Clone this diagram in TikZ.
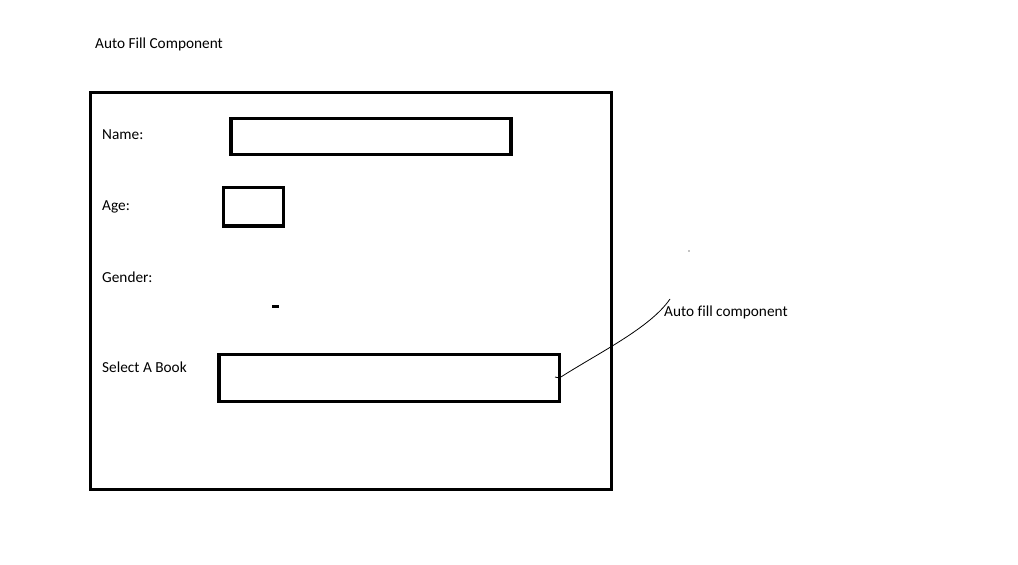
\documentclass[tikz,border=0pt]{standalone}
\usepackage{fontspec}
\setmainfont{Carlito}[Ligatures=CommonOff]
\usetikzlibrary{positioning}
\begin{document}
\begin{tikzpicture}[
  x=1pt, y=-1pt,
  font=\fontsize{15.3}{18}\selectfont,
  frame/.style={draw, line width=3.2pt, inner sep=0pt, outer sep=0pt, anchor=north west},
  field/.style={frame},
  caption/.style={anchor=base west, inner sep=0pt},
  note/.style={line width=0.8pt}
]
\useasboundingbox (0,0) rectangle (1018,565);
% form frame and title
\node[caption] (title) at (95,48) {Auto Fill Component};
\node[frame, minimum width=521, minimum height=397] (form) at (90.5,92.8) {};
% field names
\node[caption] (name) at (102,139) {Name:};
\node[caption] (age) at (102,210) {Age:};
\node[caption] (gender) at (102,282) {Gender:};
\node[caption] (book) at (102,372) {Select A Book};
% input fields
\node[field, minimum width=280, minimum height=36] (namebox) at (231,118.3) {};
\node[field, minimum width=60, minimum height=38.7] (agebox) at (223.3,187.3) {};
\node[fill, minimum width=7, minimum height=3, inner sep=0pt, anchor=north west] (genderdash) at (272,305) {};
\node[field, minimum width=340.3, minimum height=47.4] (bookbox) at (219,354.3) {};
% annotation
\node[caption] (autofill) at (664,316) {Auto fill component};
\coordinate (tip) at (670,299);
\coordinate (start) at (555,377);
\draw[note] (start) -- (bookbox.east) .. controls (600,352) and (650,328) .. (tip);
\fill (689,251) circle (0.6);
\end{tikzpicture}
\end{document}
